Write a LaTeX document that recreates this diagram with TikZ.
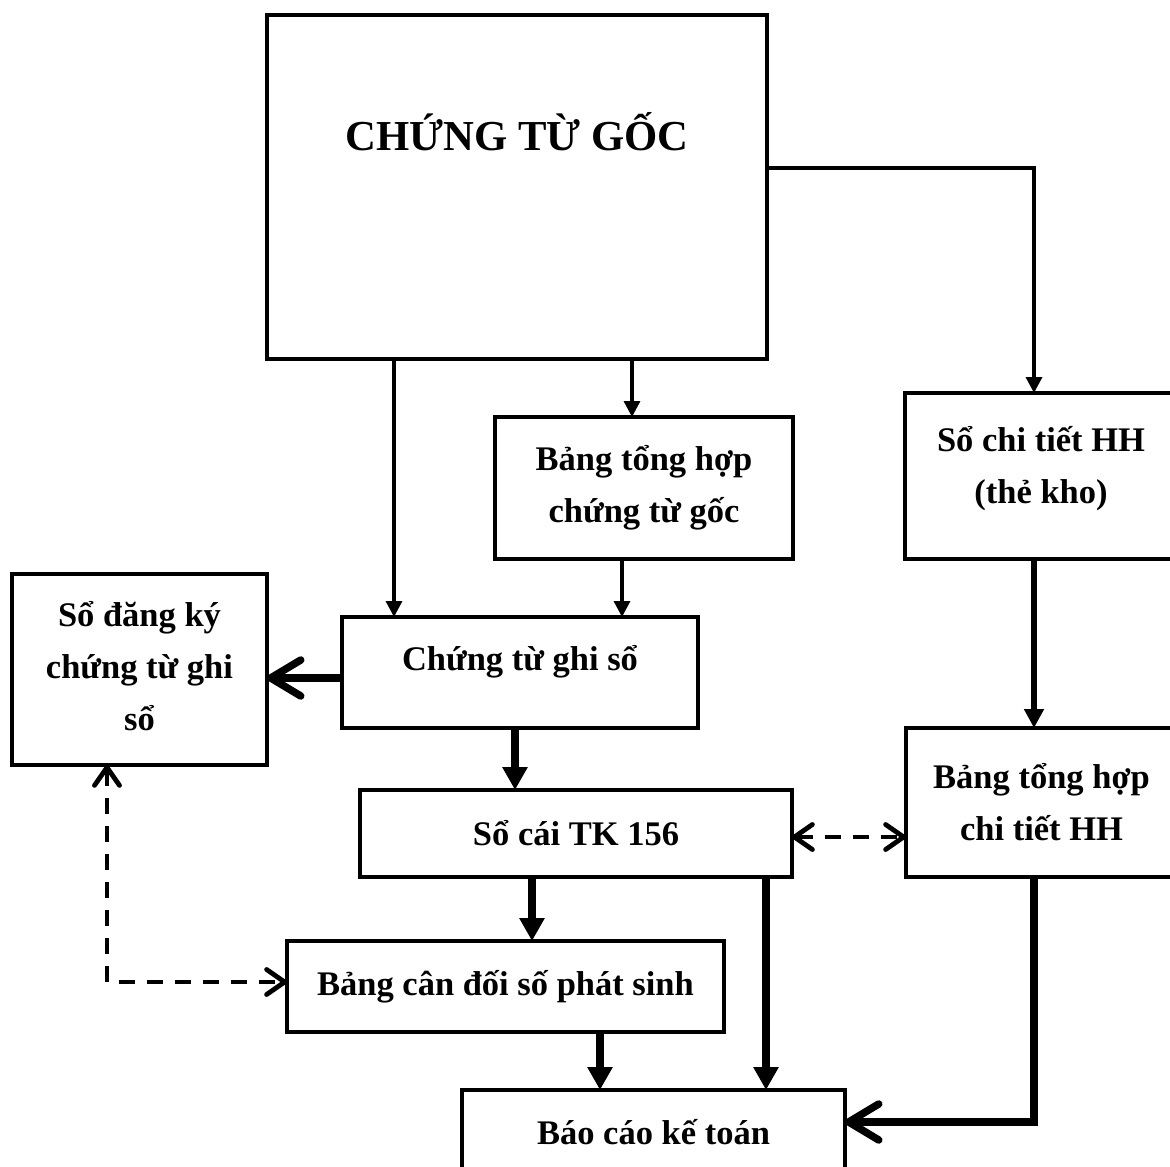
\documentclass[tikz,border=0pt]{standalone}
\usepackage{fontspec}
\setmainfont{Liberation Serif}
\usetikzlibrary{arrows.meta}
\newcommand\boxfont{\fontsize{34.5}{52}\selectfont\bfseries}
\newcommand\titlefont{\fontsize{42.7}{50}\selectfont\bfseries}
\begin{document}
\begin{tikzpicture}[x=1pt,y=-1pt,
  box/.style={draw, line width=4pt, rectangle, inner sep=0pt, outer sep=0pt,
    align=center, font=\boxfont},
  label text/.style={font=\boxfont, anchor=base, inner sep=0pt, align=center},
  thin arrow/.style={line width=3.3pt, -{Triangle[length=16pt,width=16pt]}},
  medium arrow/.style={line width=6pt, -{Triangle[length=19pt,width=19pt]}},
  thick arrow/.style={line width=8pt, -{Triangle[length=23pt,width=24pt]}},
  thick chevron/.style={line width=7.5pt, -{Straight Barb[length=30pt,width=36pt,round]}},
  dash arrow/.style={line width=4pt, dash pattern=on 16pt off 12pt,
    >={Straight Barb[length=18pt,width=25pt,round,line width=4.8pt]}, <->}]
\clip (0,0) rectangle (1170,1167);
\fill[white] (0,0) rectangle (1170,1167);

% boxes
\node[box, minimum width=500pt, minimum height=344pt] (ctg) at (517,187) {};
\node[font=\titlefont, anchor=base, inner sep=0pt] (ctgtitle) at (517,150) {CHỨNG TỪ GỐC};

\node[box, minimum width=298pt, minimum height=142pt] (bth) at (644,488)
  {Bảng tổng hợp\\chứng từ gốc};

\node[box, minimum width=272pt, minimum height=166pt] (sct) at (1041,476) {};
\node[label text] (scttext) at (1041,503) {Sổ chi tiết HH\\(thẻ kho)};

\node[box, minimum width=255pt, minimum height=191pt] (sdk) at (139.5,669.5) {};
\node[label text] (sdktext) at (139.5,730) {Sổ đăng ký\\chứng từ ghi\\sổ};

\node[box, minimum width=356pt, minimum height=111pt] (ctgs) at (520,672.5) {};
\node[label text] (ctgstext) at (520,670) {Chứng từ ghi sổ};

\node[box, minimum width=432pt, minimum height=87pt] (socai) at (576,833.5)
  {Sổ cái TK 156};

\node[box, minimum width=271pt, minimum height=149pt] (bthct) at (1041.5,802.5)
  {Bảng tổng hợp\\chi tiết HH};

\node[box, minimum width=437pt, minimum height=91pt] (bcd) at (505.5,986.5)
  {Bảng cân đối số phát sinh};

\node[box, minimum width=383pt, minimum height=90pt] (bckt) at (653.5,1135) {};
\node[label text] (bckttext) at (653.5,1144) {Báo cáo kế toán};

% connectors
\draw[thin arrow] (394,0 |- ctg.south) -- (394,0 |- ctgs.north);
\draw[thin arrow] (632,0 |- ctg.south) -- (632,0 |- bth.north);
\draw[thin arrow] (ctg.east |- 0,168) -| (sct.north -| 1034,0);
\draw[thin arrow] (622,0 |- bth.south) -- (622,0 |- ctgs.north);
\draw[thick chevron] (ctgs.west |- 0,678) -- (sdk.east |- 0,678);
\draw[thick arrow] (515,0 |- ctgs.south) -- (515,0 |- socai.north);
\draw[medium arrow] (1034,0 |- sct.south) -- (1034,0 |- bthct.north);
\draw[dash arrow] (socai.east |- 0,837) -- (bthct.west |- 0,837);
\draw[thick arrow] (532,0 |- socai.south) -- (532,0 |- bcd.north);
\draw[thick arrow] (766,0 |- socai.south) -- (766,0 |- bckt.north);
\draw[thick arrow] (600,0 |- bcd.south) -- (600,0 |- bckt.north);
\draw[thick chevron] (1034,0 |- bthct.south) |- (bckt.east |- 0,1122);
\draw[dash arrow] (107,0 |- sdk.south) |- (bcd.west |- 0,982);
\end{tikzpicture}
\end{document}
